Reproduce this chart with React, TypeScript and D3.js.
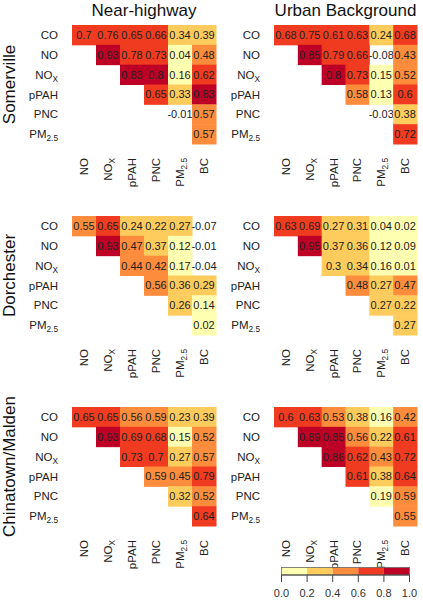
import React from "react";
import * as d3 from "d3";

const rowVars = ["CO", "NO", "NOx", "pPAH", "PNC", "PM2.5"];
const colVars = ["NO", "NOx", "pPAH", "PNC", "PM2.5", "BC"];
const siteNames = ["Somerville", "Dorchester", "Chinatown/Malden"];
const typeNames = ["Near-highway", "Urban Background"];

// upper triangular: row i holds columns i..5
const somervilleNH = [
  [0.7, 0.76, 0.65, 0.66, 0.34, 0.39],
  [0.93, 0.78, 0.73, 0.04, 0.48],
  [0.83, 0.8, 0.16, 0.62],
  [0.65, 0.33, 0.83],
  [-0.01, 0.57],
  [0.57],
];
const somervilleUB = [
  [0.68, 0.75, 0.61, 0.63, 0.24, 0.68],
  [0.85, 0.79, 0.66, -0.08, 0.43],
  [0.8, 0.73, 0.15, 0.52],
  [0.58, 0.13, 0.6],
  [-0.03, 0.38],
  [0.72],
];
const dorchesterNH = [
  [0.55, 0.65, 0.24, 0.22, 0.27, -0.07],
  [0.93, 0.47, 0.37, 0.12, -0.01],
  [0.44, 0.42, 0.17, -0.04],
  [0.56, 0.36, 0.29],
  [0.26, 0.14],
  [0.02],
];
const dorchesterUB = [
  [0.63, 0.69, 0.27, 0.31, 0.04, 0.02],
  [0.95, 0.37, 0.36, 0.12, 0.09],
  [0.3, 0.34, 0.16, 0.01],
  [0.48, 0.27, 0.47],
  [0.27, 0.22],
  [0.27],
];
const chinatownNH = [
  [0.65, 0.65, 0.56, 0.59, 0.23, 0.39],
  [0.93, 0.69, 0.68, 0.15, 0.52],
  [0.73, 0.7, 0.27, 0.57],
  [0.59, 0.45, 0.79],
  [0.32, 0.52],
  [0.64],
];
const chinatownUB = [
  [0.6, 0.63, 0.53, 0.38, 0.16, 0.42],
  [0.89, 0.85, 0.56, 0.22, 0.61],
  [0.86, 0.62, 0.43, 0.72],
  [0.61, 0.38, 0.64],
  [0.19, 0.59],
  [0.55],
];

const panels = [
  [somervilleNH, somervilleUB],
  [dorchesterNH, dorchesterUB],
  [chinatownNH, chinatownUB],
];

const legendTicks = [0, 0.2, 0.4, 0.6, 0.8, 1.0];
const palette = ["#FFFFB2", "#FECC5C", "#FD8D3C", "#F03B20", "#BD0026"];

const FONT = "'Liberation Sans', Arial, Helvetica, sans-serif";

const color = d3.scaleThreshold<number, string>().domain([0.2, 0.4, 0.6, 0.8]).range(palette);

function Label({ name, size }: { name: string; size: number }) {
  if (name === "NOx")
    return (
      <>
        NO
        <tspan fontSize={size * 0.72} dy={3}>X</tspan>
      </>
    );
  if (name === "PM2.5")
    return (
      <>
        PM
        <tspan fontSize={size * 0.72} dy={3}>2.5</tspan>
      </>
    );
  return <>{name}</>;
}

function fmt(v: number) {
  return String(v);
}

function Panel({ data, x0, x1, y0, y1 }: { data: number[][]; x0: number; x1: number; y0: number; y1: number }) {
  const xs = d3.scaleBand<string>().domain(colVars).range([x0, x1]);
  const ys = d3.scaleBand<string>().domain(rowVars).range([y0, y1]);
  const cells: JSX.Element[] = [];
  data.forEach((row, i) => {
    row.forEach((v, k) => {
      const j = i + k;
      const cx = xs(colVars[j])!;
      const cy = ys(rowVars[i])!;
      cells.push(
        <g key={`${i}-${j}`}>
          {v >= 0 && (
            <rect x={cx} y={cy} width={xs.bandwidth() + 0.5} height={ys.bandwidth() + 0.5} fill={color(v)} />
          )}
          <text
            x={cx + xs.bandwidth() / 2}
            y={cy + ys.bandwidth() / 2}
            dy="0.36em"
            textAnchor="middle"
            fontSize={11}
            fill="#222"
          >
            {fmt(v)}
          </text>
        </g>
      );
    });
  });
  return (
    <g fontFamily={FONT}>
      {cells}
      {rowVars.map((r) => (
        <text
          key={r}
          x={x0 - 14}
          y={ys(r)! + ys.bandwidth() / 2}
          dy="0.36em"
          textAnchor="end"
          fontSize={11.5}
          fill="#222"
        >
          <Label name={r} size={11.5} />
        </text>
      ))}
      {colVars.map((c) => {
        const cx = xs(c)! + xs.bandwidth() / 2 + 4;
        const cy = y1 + 14;
        return (
          <text
            key={c}
            transform={`translate(${cx},${cy}) rotate(-90)`}
            textAnchor="end"
            fontSize={11.5}
            fill="#222"
          >
            <Label name={c} size={11.5} />
          </text>
        );
      })}
    </g>
  );
}

export default function App() {
  const W = 423;
  const H = 601;
  const colX = [
    [72, 216],
    [274, 417],
  ];
  const rowY = d3.scaleLinear().domain([0, 1]).range([25, 216]);
  const panelH = 119;
  const lx = d3.scaleLinear().domain([0, 1]).range([281.5, 409.5]);
  const barY = 567.5;
  const barH = 7.5;
  return (
    <svg
      width={W}
      height={H}
      style={{ position: "absolute", left: 0, top: 0, background: "#fff" }}
      fontFamily={FONT}
    >
      {typeNames.map((t, ci) => (
        <text
          key={t}
          x={(colX[ci][0] + colX[ci][1]) / 2}
          y={16}
          textAnchor="middle"
          fontSize={17}
          fill="#111"
        >
          {t}
        </text>
      ))}
      {siteNames.map((s, ri) => {
        const y0 = rowY(ri);
        return (
          <g key={s}>
            <text
              transform={`translate(15,${y0 + panelH / 2}) rotate(-90)`}
              textAnchor="middle"
              fontSize={17}
              fill="#111"
            >
              {s}
            </text>
            {panels[ri].map((d, ci) => (
              <Panel key={ci} data={d} x0={colX[ci][0]} x1={colX[ci][1]} y0={y0} y1={y0 + panelH} />
            ))}
          </g>
        );
      })}
      <g>
        {palette.map((c, i) => (
          <rect
            key={c}
            x={lx(i / palette.length)}
            y={barY}
            width={lx((i + 1) / palette.length) - lx(i / palette.length)}
            height={barH}
            fill={c}
          />
        ))}
        <rect x={lx(0)} y={barY} width={lx(1) - lx(0)} height={barH} fill="none" stroke="#666" strokeWidth={0.8} />
        <line x1={lx(0)} x2={lx(1)} y1={barY + barH} y2={barY + barH} stroke="#444" strokeWidth={1} />
        {legendTicks.map((t) => (
          <g key={t}>
            <line x1={lx(t)} x2={lx(t)} y1={barY + barH} y2={barY + barH + 7} stroke="#444" strokeWidth={1} />
            <text x={lx(t)} y={597} textAnchor="middle" fontSize={11} fill="#333">
              {t.toFixed(1)}
            </text>
          </g>
        ))}
      </g>
    </svg>
  );
}
